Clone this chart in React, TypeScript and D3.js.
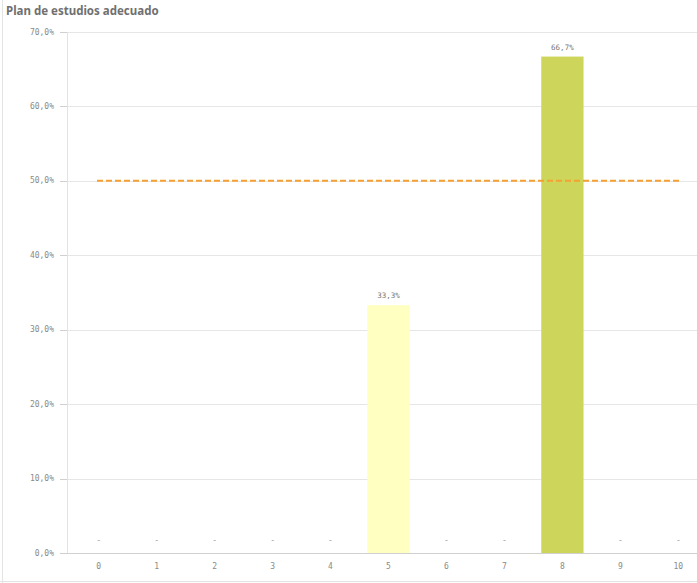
import React from "react";
import * as d3 from "d3";

const categories = ["0", "1", "2", "3", "4", "5", "6", "7", "8", "9", "10"];
const values = [0, 0, 0, 0, 0, 33.3, 0, 0, 66.7, 0, 0];
const barColors: Record<string, string> = { "5": "#ffffc2", "8": "#cdd65b" };
const yTicks = [0, 10, 20, 30, 40, 50, 60, 70];
const referenceValue = 50;
const title = "Plan de estudios adecuado";

const W = 697, H = 583;
const M = { left: 67, right: 0, top: 32, bottom: 30 };
const font = "'DejaVu Sans Mono', monospace";
const fmt = (v: number) => v.toFixed(1).replace(".", ",") + "%";

export default function App() {
  const x = d3.scaleBand<string>().domain(categories).range([70, 707]).paddingInner(0.27).paddingOuter(0.13);
  const y = d3.scaleLinear().domain([0, 70]).range([H - M.bottom, M.top]);
  const bw = x.bandwidth();
  return (
    <svg width={W} height={H} style={{ position: "absolute", left: 0, top: 0, background: "#fff" }}>
      <line x1={2.5} x2={2.5} y1={0} y2={H} stroke="#e3e3e3" />
      <line x1={0} x2={W} y1={H - 1.5} y2={H - 1.5} stroke="#e3e3e3" />
      <text x={6} y={15} fontFamily="'Noto Sans', sans-serif" fontWeight="bold" fontSize={11.5} fill="#707070">{title}</text>
      {yTicks.map((t) => (
        <g key={t}>
          <line x1={M.left} x2={W} y1={Math.round(y(t)) + 0.5} y2={Math.round(y(t)) + 0.5} stroke={t === 0 ? "#d0d0d0" : "#e6e6e6"} />
          <line x1={M.left - 7} x2={M.left} y1={Math.round(y(t)) + 0.5} y2={Math.round(y(t)) + 0.5} stroke="#d0d0d0" />
          <text x={M.left - 13} y={y(t)} dy="0.32em" textAnchor="end" fontFamily={font} fontSize={8} fill="#8a8a8a">{fmt(t)}</text>
        </g>
      ))}
      <line x1={M.left + 0.5} x2={M.left + 0.5} y1={M.top} y2={H - M.bottom} stroke="#e3e3e3" />
      {categories.map((c, i) => {
        const v = values[i];
        const cx = (x(c) as number) + bw / 2;
        return (
          <g key={c}>
            {v > 0 ? (
              <>
                <rect x={x(c)} width={bw} y={y(v)} height={y(0) - y(v)} fill={barColors[c] || "#ccc"} />
                <text x={cx} y={y(v) - 7} textAnchor="middle" fontFamily={font} fontSize={7.5} fill="#777">{fmt(v)}</text>
              </>
            ) : (
              <text x={cx} y={y(0) - 10} textAnchor="middle" fontFamily={font} fontSize={8} fill="#999">-</text>
            )}
            <text x={cx} y={y(0) + 16} textAnchor="middle" fontFamily={font} fontSize={8} fill="#8a8a8a">{c}</text>
          </g>
        );
      })}
      <line x1={97} x2={681} y1={y(referenceValue)} y2={y(referenceValue)} stroke="#f5a033" strokeWidth={2} strokeDasharray="6,3" />
    </svg>
  );
}
